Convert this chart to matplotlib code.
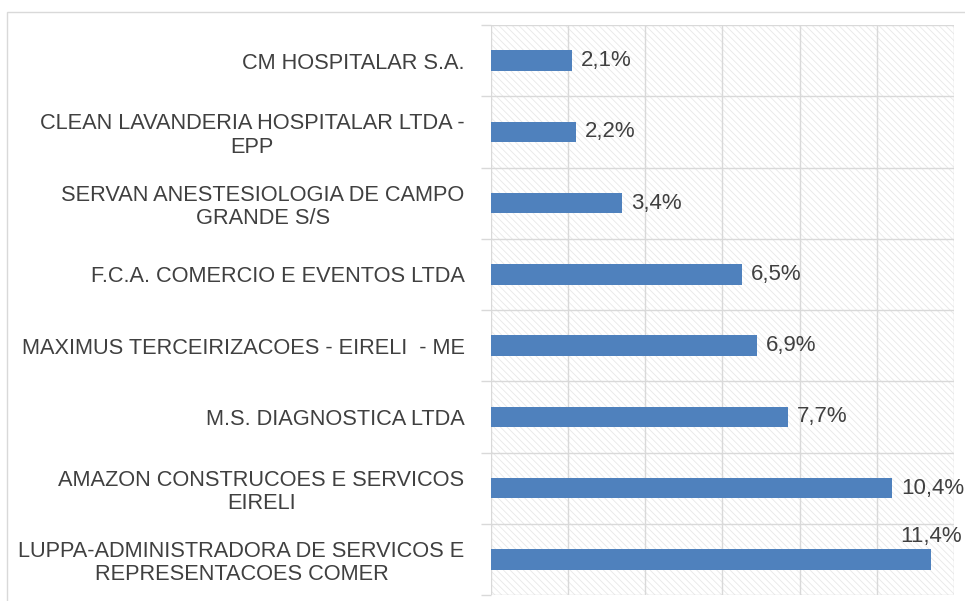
import matplotlib.pyplot as plt
from matplotlib.patches import Rectangle
import numpy as np

companies = [
    'CM HOSPITALAR S.A.',
    'CLEAN LAVANDERIA HOSPITALAR LTDA -\nEPP',
    'SERVAN ANESTESIOLOGIA DE CAMPO\nGRANDE S/S',
    'F.C.A. COMERCIO E EVENTOS LTDA',
    'MAXIMUS TERCEIRIZACOES - EIRELI  - ME',
    'M.S. DIAGNOSTICA LTDA',
    'AMAZON CONSTRUCOES E SERVICOS\nEIRELI',
    'LUPPA-ADMINISTRADORA DE SERVICOS E\nREPRESENTACOES COMER',
]
shares = [2.1, 2.2, 3.4, 6.5, 6.9, 7.7, 10.4, 11.4]
x_ticks = [0, 2, 4, 6, 8, 10, 12]

plt.rcParams['font.family'] = ['Liberation Sans', 'DejaVu Sans']
plt.rcParams['hatch.linewidth'] = 0.6

fig = plt.figure(figsize=(9.65, 6.01), dpi=100)
ax = fig.add_axes([491 / 965, 6 / 601, 463 / 965, 570 / 601])

# chart border
fig.patches.append(Rectangle((7 / 965, -0.1), 1.1, 1 - 12 / 601 + 0.1,
                             transform=fig.transFigure, fill=False,
                             edgecolor='#d9d9d9', linewidth=1))

# hatched plot background
ax.add_patch(Rectangle((0, 0), 1, 1, transform=ax.transAxes, facecolor='white',
                       edgecolor='#e8e8e8', hatch='\\\\\\\\\\', linewidth=0, zorder=0))

y = np.arange(len(companies))
ax.barh(y, shares, height=0.29, color='#4f81bd', zorder=3)

ax.set_xlim(0, 12)
ax.set_ylim(len(companies) - 0.5, -0.5)
ax.set_xticks(x_ticks)
ax.set_xticklabels([])
ax.tick_params(axis='x', length=0)

ax.set_yticks(np.arange(len(companies) + 1) - 0.5)
ax.set_yticklabels([])
ax.set_yticks(y, minor=True)
ax.set_yticklabels(companies, minor=True, fontsize=15.7, color='#404040')
ax.tick_params(axis='y', which='major', length=7, color='#d9d9d9', width=1)
ax.tick_params(axis='y', which='minor', length=0, pad=19)
for t in ax.get_yticklabels(minor=True):
    t.set_multialignment('center')
    t.set_linespacing(1.15)

ax.grid(True, which='major', color='#d9d9d9', linewidth=1, zorder=1)
ax.set_axisbelow(True)
for s in ax.spines.values():
    s.set_visible(False)

for i, v in enumerate(shares):
    lbl = f'{v:.1f}%'.replace('.', ',')
    if i == len(shares) - 1:
        ax.annotate(lbl, (v, i), xytext=(0, 16.5), textcoords='offset points',
                    ha='center', va='center', fontsize=16, color='#404040',
                    annotation_clip=False)
    else:
        ax.annotate(lbl, (v, i), xytext=(6.5, 0), textcoords='offset points',
                    ha='left', va='center', fontsize=16, color='#404040')

fig.savefig('out.png', dpi=100)
